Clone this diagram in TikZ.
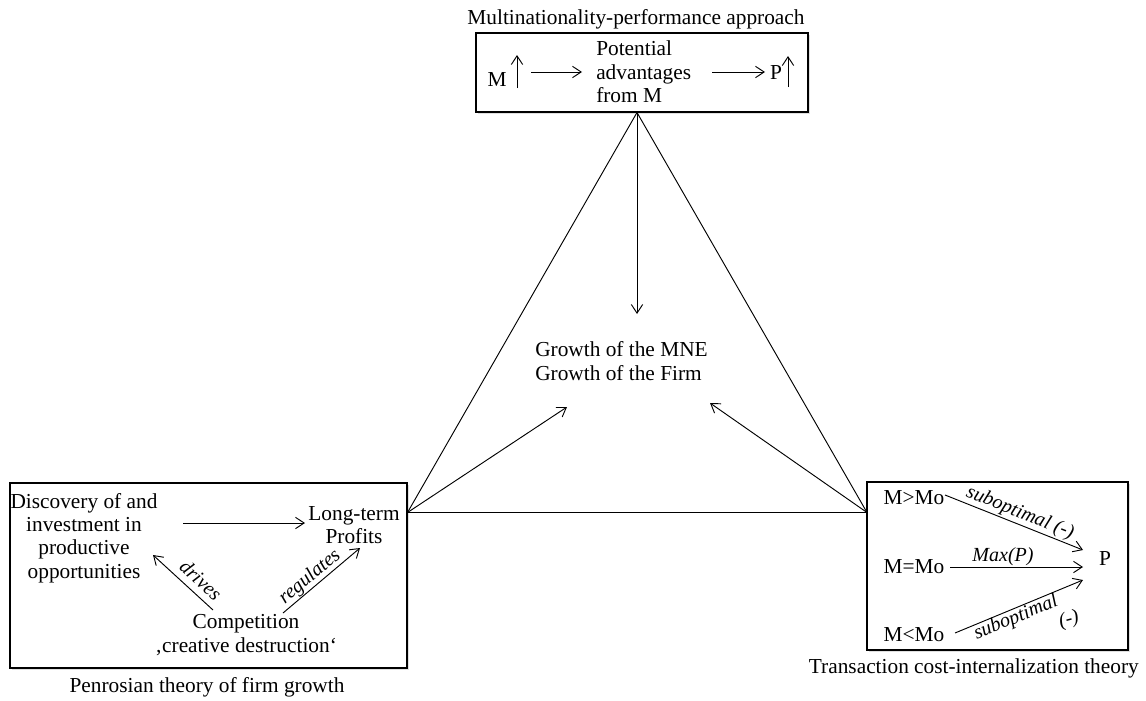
\documentclass[tikz,border=0pt]{standalone}
\usepackage{fontspec}
\setmainfont{Liberation Serif}
\usetikzlibrary{arrows.meta,shadows}
\begin{document}
\begin{tikzpicture}[x=0.75pt,y=-0.75pt,
  txt/.style={font=\fontsize{16}{17.6}\selectfont, inner sep=0pt},
  lbl/.style={font=\fontsize{15}{17}\selectfont\itshape, inner sep=0pt},
  box/.style={draw, line width=0.9pt, fill=white,
    drop shadow={shadow xshift=1.2pt, shadow yshift=-1.2pt, opacity=0.25}},
  arr/.style={-{Straight Barb[length=6.5pt,width=8.5pt]}, line width=0.7pt},
  edgeline/.style={line width=0.7pt}]
\useasboundingbox (0,0) rectangle (1146,700);

% the three framed approaches
\node[box, minimum width=249pt, minimum height=59.25pt] (topbox) at (642,72.5) {};
\node[box, minimum width=297.75pt, minimum height=138.75pt] (leftbox) at (208.5,575.5) {};
\node[box, minimum width=195.75pt, minimum height=126pt] (rightbox) at (997.5,566) {};

% captions
\node[txt] (ttop) at (636,19) {Multinationality-performance approach};
\node[txt] (tleft) at (207,687) {Penrosian theory of firm growth};
\node[txt, anchor=east] (tright) at (1139,668) {Transaction cost-internalization theory};

% multinationality-performance chain
\node[txt] (m) at (497,80) {M};
\coordinate (mA) at (517,88); \coordinate (mB) at (517,55);
\draw[arr] (mA) -- (mB);
\node[txt, align=left, anchor=west] (pot) at (596,72) {Potential\\advantages\\from M};
\coordinate (a1s) at (531,72); \coordinate (a1e) at (582,72);
\draw[arr] (a1s) -- (a1e);
\node[txt] (p) at (776,73) {P};
\coordinate (a2s) at (712,72); \coordinate (a2e) at (765,72);
\draw[arr] (a2s) -- (a2e);
\coordinate (pA) at (788,87); \coordinate (pB) at (788,56);
\draw[arr] (pA) -- (pB);

% central triangle
\node[txt, align=left, anchor=west] (growth) at (535,361) {Growth of the MNE\\Growth of the Firm};
\coordinate (apex) at (637,112.5);
\coordinate (lv) at (407.5,512.5);
\coordinate (rv) at (867,512.5);
\draw[edgeline] (lv) -- (apex) -- (rv);
\draw[line width=1.1pt] (lv) -- (rv);
\coordinate (downtip) at (637,314);
\draw[arr] (apex) -- (downtip);
\coordinate (lt) at (567,407); \coordinate (rt) at (710,403);
\draw[arr] (lv) -- (lt);
\draw[arr] (rv) -- (rt);

% Penrosian growth
\node[txt, align=center] (disc) at (84,538) {Discovery of and\\investment in\\productive\\opportunities};
\node[txt, align=center] (ltp) at (354,525) {Long-term\\Profits};
\node[txt, align=center] (comp) at (246,635) {Competition\\‚creative destruction‘};
\coordinate (b1s) at (183,523); \coordinate (b1e) at (305,523);
\draw[arr] (b1s) -- (b1e);
\coordinate (d1) at (213,610); \coordinate (d2) at (153,555);
\draw[arr] (d1) -- (d2);
\node[lbl, rotate=-42.5] (drv) at (201,580) {drives};
\coordinate (r1) at (283,613); \coordinate (r2) at (360,548);
\draw[arr] (r1) -- (r2);
\node[lbl, rotate=40] (reg) at (310,577) {regulates};

% transaction cost view
\node[txt] (mgt) at (914,498) {M>Mo};
\node[txt] (meq) at (914,567) {M=Mo};
\node[txt] (mlt) at (914,635) {M<Mo};
\node[txt] (pr) at (1105,559) {P};
\coordinate (t1s) at (945,495); \coordinate (t1e) at (1083,550);
\coordinate (t2s) at (950,567); \coordinate (t2e) at (1083,567);
\coordinate (t3s) at (955,633); \coordinate (t3e) at (1083,580);
\draw[arr] (t1s) -- (t1e);
\draw[arr] (t2s) -- (t2e);
\draw[arr] (t3s) -- (t3e);
\node[lbl, rotate=-21.7] (sub1) at (1020,513) {suboptimal (-)};
\node[lbl] (mx) at (1003,557) {Max(P)};
\node[lbl, rotate=22.5] (sub2) at (1016,618) {suboptimal};
\node[lbl, rotate=15] (neg) at (1069,620) {(-)};
\end{tikzpicture}
\end{document}
